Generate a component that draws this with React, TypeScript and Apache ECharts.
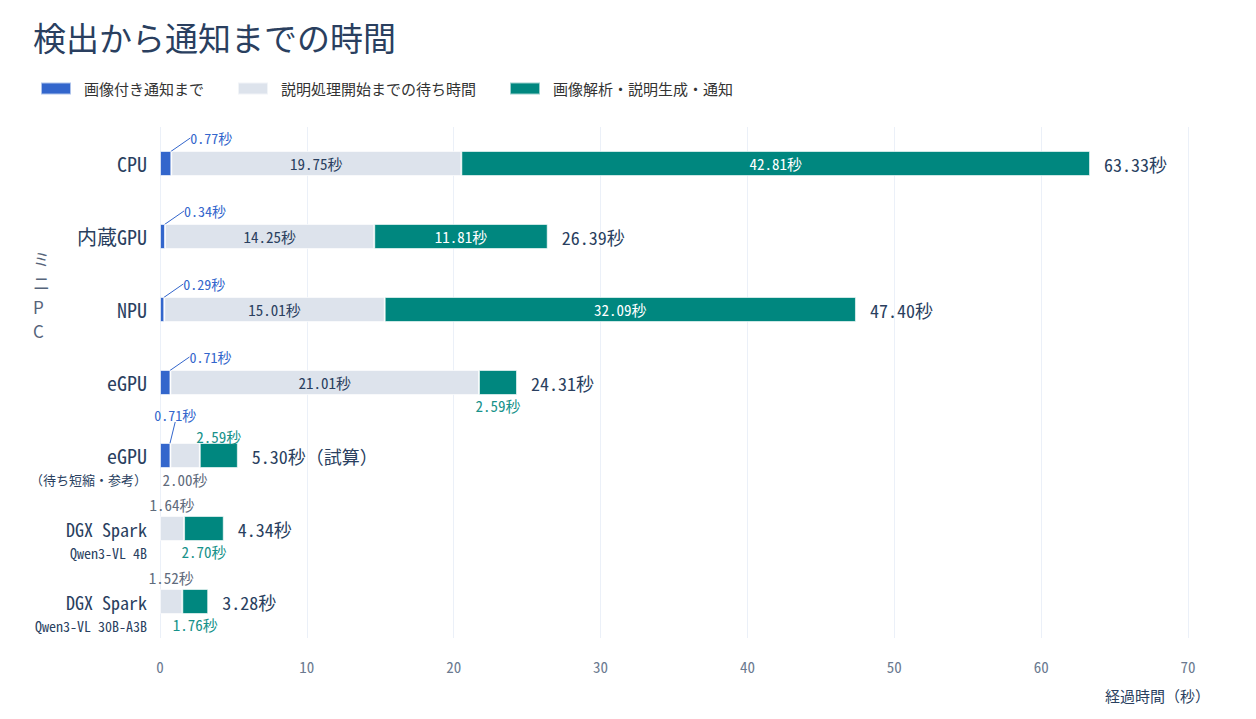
import React, { useEffect, useRef } from "react";
import * as echarts from "echarts";

const categories = [
    "CPU",
    "内蔵GPU",
    "NPU",
    "eGPU",
    "eGPU\n（待ち短縮・参考）",
    "DGX Spark\nQwen3-VL 4B",
    "DGX Spark\nQwen3-VL 30B-A3B",
];
const notifyWithImage = [0.77, 0.34, 0.29, 0.71, 0.71, null, null];
const waitBeforeProcess = [19.75, 14.25, 15.01, 21.01, 2.0, 1.64, 1.52];
const analysisAndNotify = [42.81, 11.81, 32.09, 2.59, 2.59, 2.7, 1.76];
const totals = [63.33, 26.39, 47.4, 24.31, 5.3, 4.34, 3.28];
const totalNotes = ["", "", "", "", "（試算）", "", ""];
const seriesNames = ["画像付き通知まで", "説明処理開始までの待ち時間", "画像解析・説明生成・通知"];

const BLUE = "#3366cc";
const GRAY = "#dde3ec";
const TEAL = "#00877f";
const NAVY = "#2a3f5f";
const MONO = "'Noto Sans Mono CJK JP', 'DejaVu Sans Mono', 'Noto Sans CJK JP', monospace";
const SANS = "'Noto Sans CJK JP', 'Noto Sans', sans-serif";

// どの棒のラベルを外に出すか
const waitLabelPos = ["inside", "inside", "inside", "inside", "bottom", "top", "top"];
const analysisLabelPos = ["inside", "inside", "inside", "bottom", "top", "bottom", "bottom"];

const sec = (v: number) => `${v.toFixed(2)}秒`;

const App: React.FC = () => {
    const chartRef = useRef<HTMLDivElement>(null);

    useEffect(() => {
        if (!chartRef.current) return;
        const chart = echarts.init(chartRef.current, null, { renderer: "svg" });

        const waitData = waitBeforeProcess.map((v, i) => {
            const pos = waitLabelPos[i];
            return {
                value: v,
                label: {
                    position: pos,
                    color: pos === "inside" ? NAVY : "#5f6b7c",
                    distance: 4,
                },
            };
        });

        const analysisData = analysisAndNotify.map((v, i) => {
            const pos = analysisLabelPos[i];
            return {
                value: v,
                label: {
                    position: pos,
                    color: pos === "inside" ? "#ffffff" : "#17928a",
                    distance: pos === "top" ? -1 : 3,
                },
            };
        });

        const option = {
            animation: false,
            textStyle: { fontFamily: MONO },
            title: {
                text: "検出から通知までの時間",
                left: 33,
                top: 20,
                padding: 0,
                textStyle: { fontFamily: SANS, fontSize: 33, fontWeight: 400, color: NAVY },
            },
            legend: {
                data: seriesNames,
                left: 40,
                top: 81,
                padding: 0,
                itemWidth: 30,
                itemHeight: 12,
                itemGap: 33,
                icon: "rect",
                selectedMode: false,
                textStyle: { fontFamily: SANS, fontSize: 15, color: "#333", padding: [0, 0, 0, 8] },
            },
            grid: { left: 160, right: 68, top: 127, bottom: 81 },
            xAxis: {
                type: "value",
                min: 0,
                max: 70,
                interval: 10,
                name: "経過時間（秒）",
                nameLocation: "end",
                nameGap: 22,
                nameTextStyle: {
                    fontFamily: SANS,
                    fontSize: 15,
                    color: NAVY,
                    align: "right",
                    verticalAlign: "top",
                    padding: [50, 0, 0, 0],
                },
                axisLine: { show: false },
                axisTick: { show: false },
                axisLabel: { margin: 21, fontSize: 15, color: "#6b7a90", fontFamily: MONO },
                splitLine: { lineStyle: { color: "#ebf0f8", width: 1 } },
            },
            yAxis: {
                type: "category",
                inverse: true,
                data: categories,
                axisLine: { show: false },
                axisTick: { show: false },
                axisLabel: {
                    margin: 13,
                    formatter: (value: string) => {
                        const [main, sub] = value.split("\n");
                        if (!sub) return `{m|${main}}`;
                        if (main.startsWith("DGX")) return `{g| }\n{d|${main}}\n{q|${sub}}`;
                        return `{g| }\n{m|${main}}\n{s|${sub}}`;
                    },
                    rich: {
                        m: { fontSize: 20, lineHeight: 24, color: NAVY, fontFamily: MONO },
                        d: { fontSize: 18, lineHeight: 24, color: NAVY, fontFamily: MONO },
                        s: { fontSize: 13, lineHeight: 24, color: NAVY, fontFamily: SANS },
                        q: { fontSize: 14, lineHeight: 24, color: NAVY, fontFamily: MONO },
                        g: { fontSize: 13, lineHeight: 24 },
                    },
                },
            },
            graphic: [
                {
                    type: "text",
                    left: 33,
                    top: 246,
                    style: {
                        text: "ミ\nニ\nP\nC",
                        fontFamily: SANS,
                        fontSize: 17,
                        lineHeight: 24,
                        fill: "#56647a",
                        align: "center",
                    },
                },
            ],
            series: [
                {
                    name: seriesNames[0],
                    type: "bar",
                    stack: "total",
                    barWidth: 25,
                    data: notifyWithImage,
                    itemStyle: { color: BLUE, borderColor: "rgba(255,255,255,0.6)", borderWidth: 1 },
                    label: {
                        show: true,
                        position: "right",
                        fontSize: 14,
                        color: BLUE,
                        formatter: (p: any) => sec(p.value),
                    },
                    labelLayout: (params: any) => {
                        const r = params.rect;
                        if (params.dataIndex === 4) {
                            return { x: r.x + r.width / 2 + 10, y: r.y - 28, align: "center", verticalAlign: "middle" };
                        }
                        return { x: r.x + r.width + 19, y: r.y - 13, align: "left", verticalAlign: "middle" };
                    },
                    labelLine: { show: true, lineStyle: { color: BLUE, width: 1 } },
                    emphasis: { disabled: true },
                },
                {
                    name: seriesNames[1],
                    type: "bar",
                    stack: "total",
                    barWidth: 25,
                    data: waitData,
                    itemStyle: { color: GRAY, borderColor: "rgba(255,255,255,0.6)", borderWidth: 1 },
                    label: {
                        show: true,
                        fontSize: 15,
                        formatter: (p: any) => sec(p.value),
                    },
                    emphasis: { disabled: true },
                },
                {
                    name: seriesNames[2],
                    type: "bar",
                    stack: "total",
                    barWidth: 25,
                    data: analysisData,
                    itemStyle: { color: TEAL, borderColor: "rgba(255,255,255,0.6)", borderWidth: 1 },
                    label: {
                        show: true,
                        fontSize: 15,
                        formatter: (p: any) => sec(p.value),
                    },
                    emphasis: { disabled: true },
                },
                {
                    name: "合計",
                    type: "bar",
                    stack: "total",
                    barWidth: 25,
                    data: totals.map(() => 0),
                    itemStyle: { color: "transparent" },
                    label: {
                        show: true,
                        position: "right",
                        distance: 14,
                        fontSize: 18,
                        color: NAVY,
                        formatter: (p: any) => `${sec(totals[p.dataIndex])}${totalNotes[p.dataIndex]}`,
                    },
                    emphasis: { disabled: true },
                },
            ],
        };

        chart.setOption(option as any);

        return () => {
            chart.dispose();
        };
    }, []);

    return (
        <div
            ref={chartRef}
            style={{ position: "fixed", left: 0, top: 0, width: 1256, height: 719, background: "#fff" }}
        />
    );
};

export default App;
